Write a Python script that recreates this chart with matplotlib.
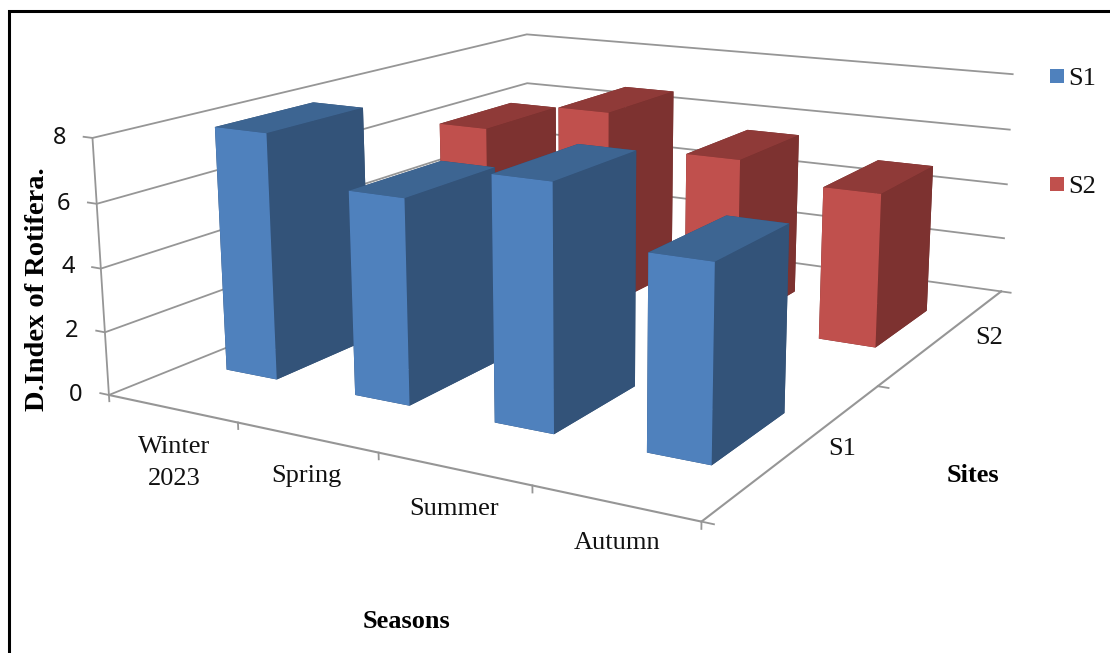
import matplotlib
matplotlib.use('Agg')
import matplotlib.pyplot as plt
from matplotlib.lines import Line2D
from matplotlib.patches import Rectangle

seasons = ['Winter\n2023', 'Spring', 'Summer', 'Autumn']
sites = ['S1', 'S2']
s1_values = [7.85, 6.4, 7.45, 5.8]
s2_values = [5.9, 6.95, 5.8, 5.2]
z_ticks = [0, 2, 4, 6, 8]

W, H = 1110, 653
SERIF = 'Liberation Serif'
GRID = '#969696'

BLUE = ['#2f4b70', '#3d6592', '#4f81bd', '#2f4b70', '#2f4b70', '#335379']
RED = ['#6e2c2a', '#8f3a38', '#c0504d', '#6e2c2a', '#6e2c2a', '#7d3230']


def px_text(x, y, s, **kw):
    #Place text using pixel coordinates of the picture (y from the top)
    return fig.text(x / W, 1 - y / H, s, ha='center', va='center', **kw)


fig = plt.figure(figsize=(W / 100, H / 100), dpi=100)

#Square axes, larger than the figure height, centred on the middle of the box
size = 911
cx, cy = 582, 235
ax = fig.add_axes([(cx - size / 2) / W, 1 - (cy + size / 2) / H, size / W, size / H],
                  projection='3d', computed_zorder=False)
ax.patch.set_alpha(0)
ax.set_axis_off()
ax.set_proj_type('persp', focal_length=0.387)
ax.view_init(elev=13.8, azim=-60.6)
ax.set_box_aspect((630, 770, 250), zoom=1.06)
ax.set_xlim(0, len(seasons))
ax.set_ylim(0, len(sites))
ax.set_zlim(0, z_ticks[-1])

x_max, y_max = len(seasons), len(sites)

#Wall gridlines with their ticks
for z in z_ticks:
    ax.plot([-0.07, 0, 0, x_max], [0, 0, y_max, y_max], [z, z, z, z], color=GRID, lw=1.3, clip_on=False)
ax.plot([0, 0], [0, 0], [0, z_ticks[-1]], color=GRID, lw=1.3, clip_on=False)

#Floor edges with ticks
ax.plot([0, x_max, x_max], [0, 0, y_max], [0, 0, 0], color=GRID, lw=1.5, clip_on=False)
for i in range(x_max + 1):
    ax.plot([i, i], [0, 0], [0, -0.2], color=GRID, lw=1.3, clip_on=False)
for j in range(y_max + 1):
    ax.plot([x_max, x_max + 0.07], [j, j], [0, 0], color=GRID, lw=1.3, clip_on=False)

#Bars, back row first and left to right so the nearer ones cover the others
bar_w, bar_d = 0.4, 0.4
for row, values, colors in [(1, s2_values, RED), (0, s1_values, BLUE)]:
    for i, v in enumerate(values):
        ax.bar3d(i + 0.5 - bar_w / 2, row + 0.5 - bar_d / 2, 0, bar_w, bar_d, v,
                 color=colors, shade=False, linewidth=0, zorder=5)

#Tick labels
for z, (px, py) in zip(z_ticks, [(76, 395), (72, 331), (68, 267), (64, 204), (60, 138)]):
    px_text(px, py, str(z), fontsize=17, family='Noto Sans', color='#111111')
for s, (px, py) in zip(seasons, [(174, 463), (306, 476), (454, 509), (617, 543)]):
    px_text(px, py, s, fontsize=19, family=SERIF, color='#111111', linespacing=1.55)
for s, (px, py) in zip(sites, [(842, 449), (989, 338)]):
    px_text(px, py, s, fontsize=19, family=SERIF, color='#111111')

#Axis titles
px_text(38, 289, 'D.Index of Rotifera.', fontsize=20.5, family=SERIF, weight='bold', rotation=90)
px_text(406, 622, 'Seasons', fontsize=19, family=SERIF, weight='bold')
px_text(973, 475, 'Sites', fontsize=19, family=SERIF, weight='bold')

#Legend
for s, py, color in zip(sites, [76, 184], [BLUE[2], RED[2]]):
    fig.add_artist(Rectangle((1050 / W, 1 - (py + 7) / H), 14 / W, 14 / H,
                             transform=fig.transFigure, color=color, lw=0))
    px_text(1082, py + 3, s, fontsize=19, family=SERIF, color='#111111')

#Outer frame, open on the right and at the bottom
fig.add_artist(Line2D([8.5 / W, 8.5 / W, 1], [0, 1 - 11 / H, 1 - 11 / H],
                      transform=fig.transFigure, color='black', lw=2.2,
                      solid_joinstyle='miter'))

fig.savefig('out.png', dpi=100)
